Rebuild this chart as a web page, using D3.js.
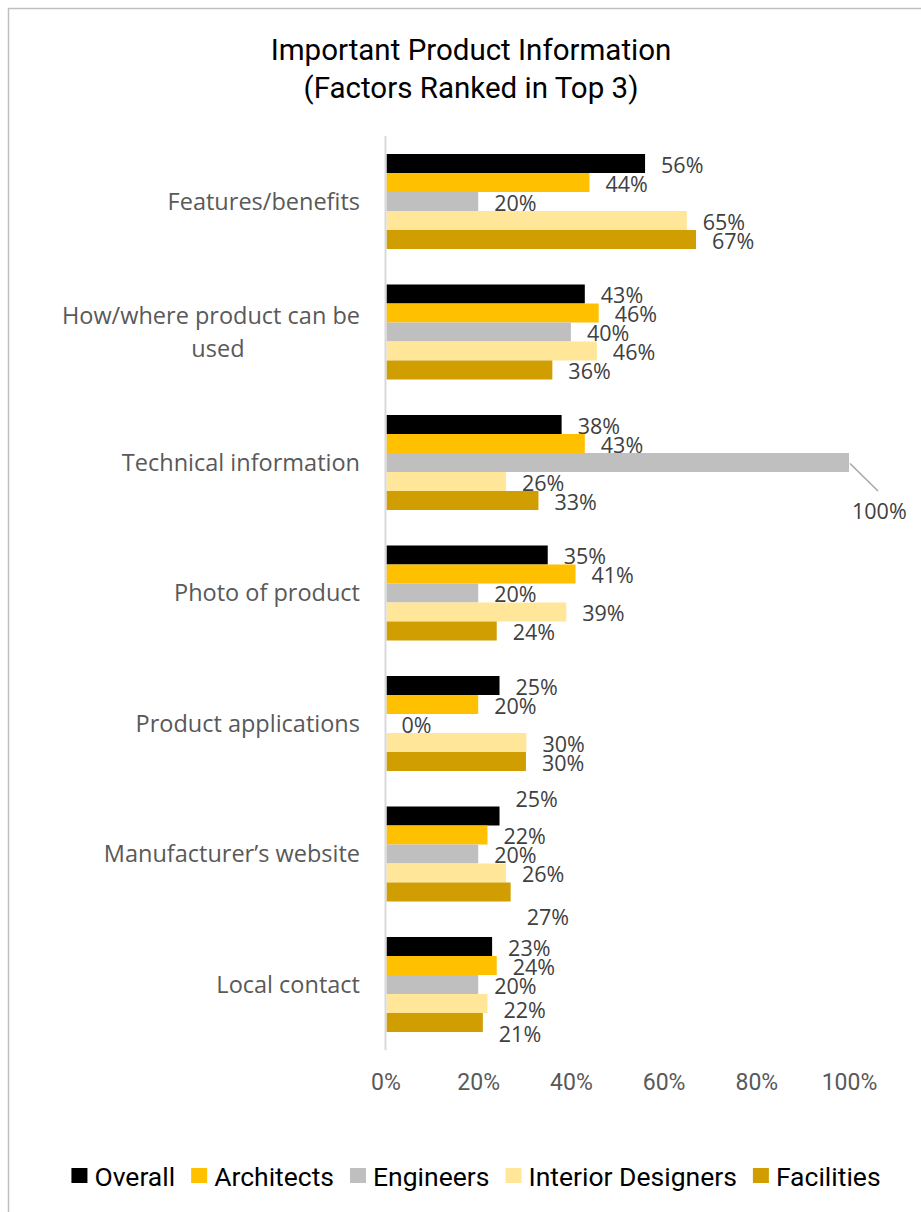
<!DOCTYPE html>
<html>
<head>
<meta charset="utf-8">
<script src="https://cdn.jsdelivr.net/npm/d3@7"></script>
<style>
  html, body { margin: 0; padding: 0; background: #fff; }
  svg { display: block; }
</style>
</head>
<body>
<script>
// ---------- data ----------
const categories = [
  "Features/benefits",
  "How/where product can be used",
  "Technical information",
  "Photo of product",
  "Product applications",
  "Manufacturer\u2019s website",
  "Local contact"
];
const series = ["Overall", "Architects", "Engineers", "Interior Designers", "Facilities"];
const overall     = [56, 43, 38, 35, 24.6, 24.6, 23];
const architects  = [44, 46, 43, 41, 20, 22, 24];
const engineers   = [20, 40, 100, 20, 0, 20, 20];
const interior    = [65, 45.6, 26, 39, 30.4, 26, 22];
const facilities  = [67, 36, 33, 24, 30.3, 27, 21];
const xTicks = [0, 0.2, 0.4, 0.6, 0.8, 1.0];
const titleLines = ["Important Product Information", "(Factors Ranked in Top 3)"];

// ---------- style ----------
const colors = ["#000000", "#FFC000", "#BFBFBF", "#FFE699", "#D09E00"];
// manual label nudges (category index, series index, dx, dy) as in the original
const labelNudges = [
  { c: 2, s: 2, dx: -13, dy: 47 },
  { c: 5, s: 0, dx: 0, dy: -18 },
  { c: 5, s: 4, dx: 0, dy: 24 },
  { c: 6, s: 3, dx: 0, dy: 5 },
  { c: 6, s: 4, dx: 0, dy: 10 }
];

const W = 921, H = 1212;
const svg = d3.select("body").append("svg").attr("width", W).attr("height", H);

// frame
svg.append("rect").attr("x", 8.5).attr("y", 8.5).attr("width", 940).attr("height", 1240)
  .attr("fill", "#fff").attr("stroke", "#BFBFBF").attr("stroke-width", 1.5);

const values = [overall, architects, engineers, interior, facilities];
const data = categories.map((c, i) => ({ cat: c, vals: series.map((s, j) => ({ s, j, v: values[j][i] })) }));

const x = d3.scaleLinear().domain([0, 1]).range([385.5, 849]);
const y = d3.scaleBand().domain(categories).range([136.25, 1049.75]).paddingInner(0.272).paddingOuter(0.136);
const ys = d3.scaleBand().domain(series).range([0, y.bandwidth()]).padding(0);

// title
const title = svg.append("text").attr("x", 471).attr("text-anchor", "middle")
  .style("font-family", "Roboto, sans-serif").style("font-size", "29.5px").attr("fill", "#000");
titleLines.forEach((t, i) => title.append("tspan").attr("x", 471).attr("y", 60 + i * 38).text(t));

// x axis (labels only)
const xAxis = d3.axisBottom(x).tickValues(xTicks).tickFormat(d3.format(".0%")).tickSize(0).tickPadding(0);
const gx = svg.append("g").attr("transform", "translate(0,1074)").call(xAxis);
gx.select(".domain").remove();
gx.selectAll("text").attr("fill", "#595959").attr("dy", "0.7em")
  .style("font-family", "Roboto, sans-serif").style("font-size", "23px");

// bars
const groups = svg.selectAll("g.cat").data(data).join("g").attr("class", "cat")
  .attr("transform", d => `translate(0,${y(d.cat)})`);
groups.selectAll("rect").data(d => d.vals).join("rect")
  .attr("x", x(0) + 1)
  .attr("y", d => ys(d.s))
  .attr("width", d => Math.max(0, x(d.v / 100) - x(0) - 1))
  .attr("height", ys.bandwidth())
  .attr("fill", d => colors[d.j]);

// vertical axis line
svg.append("line").attr("x1", x(0)).attr("x2", x(0)).attr("y1", 136).attr("y2", 1050)
  .attr("stroke", "#D9D9D9").attr("stroke-width", 2);

// data labels
const labFont = "'Open Sans', sans-serif";
groups.each(function(d, ci) {
  const g = d3.select(this);
  d.vals.forEach(v => {
    const n = labelNudges.find(k => k.c === ci && k.s === v.j) || { dx: 0, dy: 0 };
    const lx = x(v.v / 100) + 16 + n.dx;
    const ly = ys(v.s) + ys.bandwidth() / 2 + 1.5 + n.dy;
    g.append("text").attr("x", lx).attr("y", ly).attr("dy", "0.36em")
      .attr("fill", "#404040").style("font-family", labFont).style("font-size", "21.5px")
      .text(Math.round(v.v) + "%");
    if (n.dy > 30) {
      g.append("line")
        .attr("x1", x(v.v / 100) + 1).attr("y1", ys(v.s) + ys.bandwidth() / 2 + 1)
        .attr("x2", lx + 26).attr("y2", ly - 20)
        .attr("stroke", "#A6A6A6").attr("stroke-width", 1.5);
    }
  });
});

// category labels
const catLines = {
  "How/where product can be used": ["How/where product can be", "used"]
};
categories.forEach(c => {
  const cy = y(c) + y.bandwidth() / 2;
  const lines = catLines[c] || [c];
  const t = svg.append("text").attr("fill", "#595959")
    .style("font-family", labFont).style("font-size", "23.5px");
  if (lines.length === 1) {
    t.attr("x", 360).attr("y", cy).attr("dy", "0.36em").attr("text-anchor", "end").text(c);
  } else {
    const first = t.append("tspan").attr("x", 360).attr("y", cy - 16.5).attr("dy", "0.36em")
      .attr("text-anchor", "end").text(lines[0]);
    const w = first.node().getComputedTextLength();
    t.append("tspan").attr("x", 367 - w / 2).attr("y", cy + 16.5).attr("dy", "0.36em")
      .attr("text-anchor", "middle").text(lines[1]);
  }
});

// legend
const leg = svg.append("g");
let lx = 0;
series.forEach((s, i) => {
  const it = leg.append("g").attr("transform", `translate(${lx},0)`);
  it.append("rect").attr("x", 0).attr("y", -8).attr("width", 16).attr("height", 15).attr("fill", colors[i]);
  const tx = it.append("text").attr("x", 23).attr("y", 0).attr("dy", "0.36em")
    .style("font-family", "Roboto, sans-serif").style("font-size", "26.5px").attr("fill", "#000").text(s);
  lx += 23 + tx.node().getComputedTextLength() + 16;
});
const legW = lx - 16;
leg.attr("transform", `translate(${476 - legW / 2},1176)`);
</script>
</body>
</html>
